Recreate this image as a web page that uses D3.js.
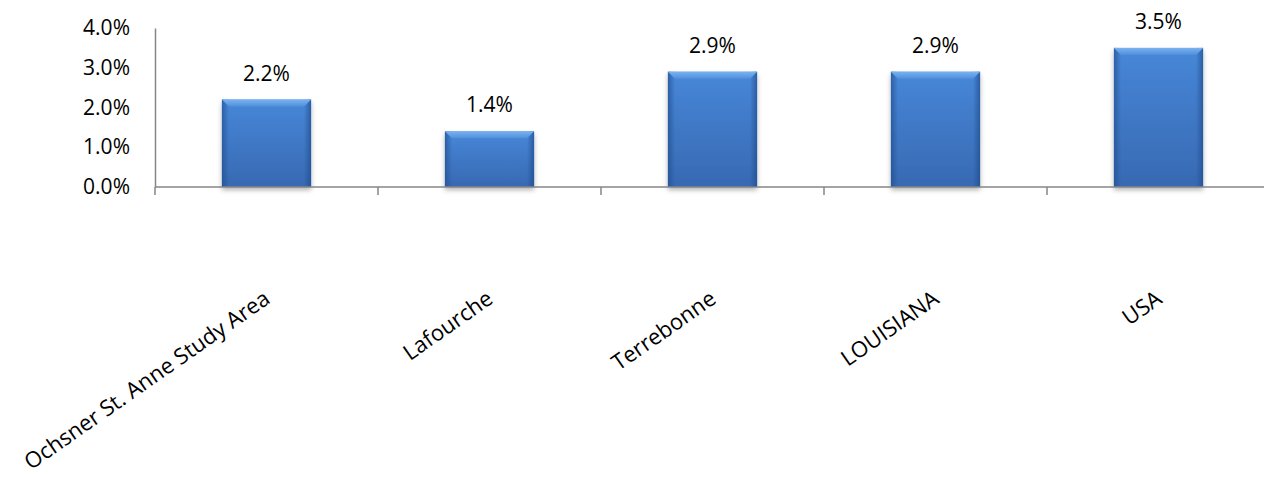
<!DOCTYPE html>
<html>
<head>
<meta charset="utf-8">
<script src="https://cdn.jsdelivr.net/npm/d3@7"></script>
<style>
  body { margin: 0; background: #fff; }
  text { font-family: "Open Sans", sans-serif; fill: #000; }
</style>
</head>
<body>
<svg id="chart" width="1264" height="477"></svg>
<script>
const categories = ["Ochsner St. Anne Study Area", "Lafourche", "Terrebonne", "LOUISIANA", "USA"]
const values = [0.022, 0.014, 0.029, 0.029, 0.035]
const yTicks = [0, 0.01, 0.02, 0.03, 0.04]

const margin = {left: 155, top: 28}
const plotRight = 1270
const plotBottom = 187

const svg = d3.select("#chart")

const x = d3.scaleBand()
    .domain(categories)
    .range([margin.left, plotRight])
    .paddingInner(0.6)
    .paddingOuter(0.3)

const y = d3.scaleLinear()
    .domain([0, 0.04])
    .range([plotBottom, margin.top])

const fmt = d3.format(".1%")

// gradients + shadow
const defs = svg.append("defs")
const vg = defs.append("linearGradient").attr("id", "barV")
    .attr("x1", 0).attr("y1", 0).attr("x2", 0).attr("y2", 1)
vg.append("stop").attr("offset", "0%").attr("stop-color", "#4787d8")
vg.append("stop").attr("offset", "100%").attr("stop-color", "#3769b2")

const hg = defs.append("linearGradient").attr("id", "barH")
    .attr("x1", 0).attr("y1", 0).attr("x2", 1).attr("y2", 0)
hg.append("stop").attr("offset", "0%").attr("stop-color", "#1f4c8c").attr("stop-opacity", 0.65)
hg.append("stop").attr("offset", "8%").attr("stop-color", "#1f4c8c").attr("stop-opacity", 0)
hg.append("stop").attr("offset", "92%").attr("stop-color", "#1f4c8c").attr("stop-opacity", 0)
hg.append("stop").attr("offset", "100%").attr("stop-color", "#1f4c8c").attr("stop-opacity", 0.7)

const bg = defs.append("linearGradient").attr("id", "bevel")
    .attr("x1", 0).attr("y1", 0).attr("x2", 0).attr("y2", 1)
bg.append("stop").attr("offset", "0%").attr("stop-color", "#7ab2ee")
bg.append("stop").attr("offset", "100%").attr("stop-color", "#4f8fdc")

const sh = defs.append("filter").attr("id", "shadow")
    .attr("x", "-10%").attr("y", "-10%").attr("width", "120%").attr("height", "125%")
sh.append("feDropShadow").attr("dx", 0).attr("dy", 3).attr("stdDeviation", 2.5)
    .attr("flood-color", "#000").attr("flood-opacity", 0.3)

// bars
const bars = svg.append("g").selectAll("g.bar")
    .data(categories.map((c, i) => ({cat: c, val: values[i]})))
    .enter().append("g").attr("class", "bar")

bars.append("rect")
    .attr("x", d => x(d.cat))
    .attr("y", d => y(d.val))
    .attr("width", x.bandwidth())
    .attr("height", d => y(0) - y(d.val))
    .attr("fill", "url(#barV)")
    .attr("filter", "url(#shadow)")

bars.append("rect")
    .attr("x", d => x(d.cat))
    .attr("y", d => y(d.val))
    .attr("width", x.bandwidth())
    .attr("height", d => y(0) - y(d.val))
    .attr("fill", "url(#barH)")

// top bevel
const bev = 7
bars.append("path")
    .attr("d", d => {
        const x0 = x(d.cat), x1 = x0 + x.bandwidth(), t = y(d.val)
        return `M${x0},${t}L${x1},${t}L${x1 - bev},${t + bev}L${x0 + bev},${t + bev}Z`
    })
    .attr("fill", "url(#bevel)")

// value labels
bars.append("text")
    .attr("x", d => x(d.cat) + x.bandwidth() / 2)
    .attr("y", d => y(d.val) - 19)
    .attr("text-anchor", "middle")
    .style("font-size", "21px")
    .text(d => fmt(d.val))

// y axis
const yAxis = svg.append("g")
    .attr("transform", "translate(" + margin.left + ",0)")
    .call(d3.axisLeft(y).tickValues(yTicks).tickFormat(fmt).tickSize(0).tickPadding(25))
yAxis.select(".domain").attr("stroke", "#868686").attr("stroke-width", 1.5)
yAxis.selectAll("text").style("font-size", "21px").attr("fill", "#000")

// x axis
const bounds = categories.map(c => x(c) - x.step() * x.paddingOuter())
bounds.push(plotRight)
const xAxis = svg.append("g")
xAxis.append("line")
    .attr("x1", margin.left).attr("x2", 1264)
    .attr("y1", y(0)).attr("y2", y(0))
    .attr("stroke", "#868686").attr("stroke-width", 1.5)
xAxis.selectAll("line.tick")
    .data(bounds)
    .enter().append("line").attr("class", "tick")
    .attr("x1", d => d).attr("x2", d => d)
    .attr("y1", y(0)).attr("y2", y(0) + 8)
    .attr("stroke", "#868686").attr("stroke-width", 1.5)

xAxis.selectAll("text")
    .data(categories)
    .enter().append("text")
    .attr("text-anchor", "end")
    .attr("transform", d => "translate(" + (x(d) + x.bandwidth() / 2 + 5) + ",302) rotate(-35)")
    .style("font-size", "22px")
    .text(d => d)
</script>
</body>
</html>
